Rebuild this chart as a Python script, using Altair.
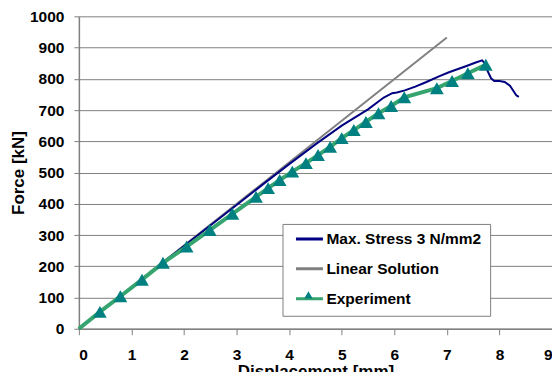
import altair as alt
import pandas as pd

series_names = ["Max. Stress 3 N/mm2", "Linear Solution", "Experiment"]
series_colors = ["#000080", "#808080", "#36A46E"]

# Max. Stress 3 N/mm2 (FE curve)
fe_x = [0, 1, 2, 3, 3.5, 4, 4.5, 5, 5.5, 5.8, 5.96, 6.05, 6.2, 6.4, 6.6, 6.85, 7.04, 7.36, 7.55, 7.67,
        7.72, 7.76, 7.84, 7.9, 8.0, 8.1, 8.2, 8.27, 8.32, 8.37]
fe_y = [0, 133, 265, 396, 462, 527, 590, 650, 702, 740, 754, 756, 763, 775, 789, 808, 821, 840, 852, 859,
        850, 830, 802, 793, 793, 790, 778, 760, 747, 742]

# Linear solution
lin_x = [0, 7.0]
lin_y = [0, 932]

# Experiment
exp_x = [0, 0.4, 0.79, 1.2, 1.6, 2.05, 2.49, 2.92, 3.37, 3.6, 3.82, 4.06, 4.32, 4.55, 4.78, 5.0, 5.23,
         5.46, 5.7, 5.94, 6.19, 6.81, 7.1, 7.4, 7.74]
exp_y = [0, 54, 104, 157, 211, 263, 316, 368, 422, 450, 476, 503, 530, 556, 582, 610, 636, 662, 690,
         713, 741, 770, 793, 818, 845]

x_ticks = list(range(0, 10))
y_ticks = list(range(0, 1001, 100))

fe = pd.DataFrame({"x": fe_x, "y": fe_y, "series": series_names[0]})
lin = pd.DataFrame({"x": lin_x, "y": lin_y, "series": series_names[1]})
exp = pd.DataFrame({"x": exp_x, "y": exp_y, "series": series_names[2]})
pts = exp[exp["x"] > 0].copy()
pts["mk"] = "Experiment"

FONT = "Liberation Sans"

xenc = alt.X("x:Q", scale=alt.Scale(domain=[0, 9], nice=False),
             axis=alt.Axis(values=x_ticks, title="Displacement [mm]", grid=False, tickSize=6,
                           labelPadding=13, titlePadding=0, format="d"))
yenc = alt.Y("y:Q", scale=alt.Scale(domain=[0, 1000], nice=False),
             axis=alt.Axis(values=y_ticks, title="Force [kN]", grid=True, tickSize=5,
                           labelPadding=10, titlePadding=2, format="d"))

color = alt.Color("series:N",
                  scale=alt.Scale(domain=series_names, range=series_colors),
                  legend=alt.Legend(title=None, orient="none", legendX=204, legendY=208,
                                    symbolType="stroke", symbolSize=729, symbolStrokeWidth=3,
                                    symbolOffset=4, clipHeight=14,
                                    labelFont=FONT, labelFontWeight="bold", labelFontSize=15.5,
                                    labelColor="black", labelOffset=2, rowPadding=14,
                                    padding=8, strokeColor="#808080", fillColor="white",
                                    labelLimit=400))

lin_layer = alt.Chart(lin).mark_line(strokeWidth=2).encode(x=xenc, y=yenc, color=color)
fe_layer = alt.Chart(fe).mark_line(strokeWidth=2).encode(x=xenc, y=yenc, color=color)
exp_layer = alt.Chart(exp).mark_line(strokeWidth=4).encode(x=xenc, y=yenc, color=color)
pt_layer = alt.Chart(pts).mark_point(filled=True, size=190, opacity=1, color="#008080").encode(
    x=xenc, y=yenc,
    shape=alt.Shape("mk:N", scale=alt.Scale(domain=["Experiment"], range=["triangle-up"]),
                    legend=alt.Legend(title=None, orient="none", legendX=225, legendY=274,
                                      labelExpr="''", symbolSize=70, symbolFillColor="#008080",
                                      symbolStrokeColor="#008080", padding=0, labelOffset=0))
)

chart = alt.layer(lin_layer, fe_layer, exp_layer, pt_layer).properties(
    width=474, height=313,
    autosize=alt.AutoSizeParams(type="none"),
    padding={"left": 71, "top": 8, "right": 0, "bottom": 43},
).configure_view(stroke=None).configure_axis(
    labelFont=FONT, labelFontWeight="bold", labelFontSize=15.5, labelColor="black",
    titleFont=FONT, titleFontWeight="bold", titleFontSize=17, titleColor="black",
    domainColor="#808080", tickColor="#808080", gridColor="#808080", gridWidth=1,
    domainWidth=1.5,
)

chart.save("out.html", embed_options={"renderer": "svg", "actions": False})
